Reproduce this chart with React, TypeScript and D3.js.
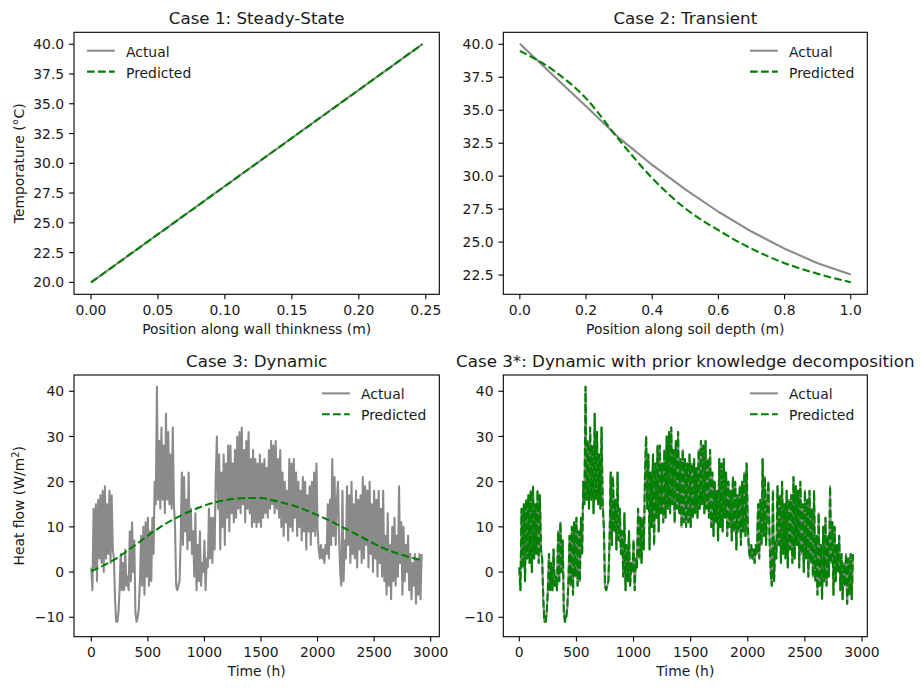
import * as d3 from "d3";
import type { ReactNode } from "react";

// Case 1: steady-state wall
const wallX = [0, 0.2475];
const wallActual = [20, 40];
const wallPredicted = [20, 40];

// Case 2: transient soil
const soilDepth = [0, 0.1, 0.2, 0.3, 0.4, 0.5, 0.6, 0.7, 0.8, 0.9, 1.0];
const soilActual = [40.05, 37.65, 35.3, 32.9, 30.85, 29.0, 27.3, 25.8, 24.5, 23.4, 22.55];
const soilPredicted = [39.5, 38.05, 35.9, 32.75, 29.85, 27.55, 25.9, 24.5, 23.4, 22.6, 21.95];

// Case 3: dynamic heat flow, one reading every 10 h (each row = 200 h)
const heatHours = d3.range(0, 2921, 10);
const heatActual = [
  1, -4, 14, 1, 15, -2, 16, 3, 17, 2, 18, 0, 19, 3, 15, 4, 18, 2, 17, 5,
  3, -6, -11, -11, -9, -4, 4, -4, 2, -4, 5, -3, -1, -4, 9, -2, 11, 0, 7, -9,
  -11, -10, -8, -2, 8, -3, 10, -5, 11, -1, 12, -3, 9, -2, 12, 4, 20, 15, 41, 16,
  29, 14, 32, 16, 28, 13, 35, 16, 31, 15, 26, 14, 32, 15, 10, -3, -4, -3, -2, 7,
  22, 6, 21, 9, 16, 5, 22, 7, 14, 4, 9, -1, 13, -4, 6, -2, 9, -3, 2, 0,
  7, -4, 3, 1, 14, 3, 12, 2, 12, 5, 21, 30, 14, 26, 5, 22, 10, 26, 6, 24,
  12, 28, 9, 28, 13, 24, 11, 27, 12, 30, 14, 31, 13, 32, 15, 27, 11, 29, 14, 31,
  13, 25, 10, 27, 11, 25, 10, 24, 11, 26, 10, 24, 12, 25, 13, 23, 12, 27, 14, 29,
  15, 28, 13, 29, 14, 25, 12, 27, 10, 22, 8, 20, 11, 18, 7, 25, 10, 24, 9, 25,
  12, 22, 8, 20, 10, 18, 7, 21, 9, 20, 5, 17, 9, 19, 6, 20, 9, 22, 8, 24,
  10, 5, 3, 6, 3, 5, 2, 6, 4, 15, 3, 16, 6, 25, 8, 21, 6, 15, 20, 8,
  0, -3, 18, -2, 7, 3, 19, 6, 17, 2, 20, 4, 15, 3, 18, 1, 16, 5, 17, 2,
  21, 3, 19, 6, 18, 1, 20, 4, 15, 0, 18, 3, 16, -1, 18, 2, 14, -1, 18, -2,
  8, -5, 13, -3, 6, -6, 10, -2, 12, -3, 8, -1, 19, 2, 11, -5, 10, -2, 6, 0,
  8, -4, 4, -6, 2, -3, 4, -7, 3, -5, 4, -6, 4,
];
// the decomposed model tracks the measured series almost exactly
const heatPredictedDecomp = heatActual;

// smooth prediction without decomposition
const trendHours = [0, 200, 400, 600, 800, 1000, 1200, 1400, 1500, 1600, 1800, 2000, 2200, 2400, 2600, 2800, 2920];
const trendPredicted = [0.2, 2.7, 6.2, 9.8, 12.6, 14.7, 16.0, 16.4, 16.4, 15.9, 14.6, 12.6, 10.2, 7.6, 5.1, 3.4, 2.6];

// ticks
const wallTicks = [0, 0.05, 0.1, 0.15, 0.2, 0.25];
const wallTickLabels = ["0.00", "0.05", "0.10", "0.15", "0.20", "0.25"];
const tempTicks1 = [20, 22.5, 25, 27.5, 30, 32.5, 35, 37.5, 40];
const tempTicks2 = [22.5, 25, 27.5, 30, 32.5, 35, 37.5, 40];
const soilTicks = [0, 0.2, 0.4, 0.6, 0.8, 1.0];
const soilTickLabels = ["0.0", "0.2", "0.4", "0.6", "0.8", "1.0"];
const hourTicks = [0, 500, 1000, 1500, 2000, 2500, 3000];
const heatTicks = [-10, 0, 10, 20, 30, 40];
const heatTickLabels = ["\u221210", "0", "10", "20", "30", "40"];

const FONT = "DejaVu Sans, Verdana, sans-serif";
const FS = 13.9;
const GRAY = "#8a8a8a";
const GREEN = "#008000";
const LW = 2.08;

type Series = { x: number[]; y: number[]; kind: "actual" | "predicted"; smooth?: boolean };

type PanelProps = {
  box: { left: number; right: number; top: number; bottom: number };
  xDomain: [number, number];
  yDomain: [number, number];
  xTicks: number[];
  xTickLabels: string[];
  yTicks: number[];
  yTickLabels: string[];
  title: string;
  xLabel: string;
  yLabel?: ReactNode;
  legend: "left" | "right";
  series: Series[];
  clipId: string;
};

function Panel(p: PanelProps) {
  const { left, right, top, bottom } = p.box;
  const x = d3.scaleLinear().domain(p.xDomain).range([left, right]);
  const y = d3.scaleLinear().domain(p.yDomain).range([bottom, top]);
  const cx = (left + right) / 2;
  const cy = (top + bottom) / 2;

  const legendText = p.legend === "left" ? left + 52 : right - 78.3;
  const legendHandle = legendText - 39;

  return (
    <g fontFamily={FONT} fill="#1a1a1a">
      <defs>
        <clipPath id={p.clipId}>
          <rect x={left} y={top} width={right - left} height={bottom - top} />
        </clipPath>
      </defs>

      <g clipPath={`url(#${p.clipId})`}>
        {p.series.map((s, i) => {
          const gen = d3
            .line<number>()
            .x((_, j) => x(s.x[j]))
            .y((v) => y(v))
            .curve(s.smooth ? d3.curveMonotoneX : d3.curveLinear);
          return (
            <path
              key={i}
              d={gen(s.y) ?? ""}
              fill="none"
              stroke={s.kind === "actual" ? GRAY : GREEN}
              strokeWidth={LW}
              strokeDasharray={s.kind === "predicted" ? "7.7 3.3" : undefined}
              strokeLinejoin="round"
            />
          );
        })}
      </g>

      <rect x={left} y={top} width={right - left} height={bottom - top} fill="none" stroke="#000" strokeWidth={1.1} />

      {p.xTicks.map((t, i) => (
        <g key={`x${i}`}>
          <line x1={x(t)} x2={x(t)} y1={bottom} y2={bottom + 4.9} stroke="#000" strokeWidth={1.1} />
          <text x={x(t)} y={bottom + 20.7} fontSize={FS} textAnchor="middle">
            {p.xTickLabels[i]}
          </text>
        </g>
      ))}
      {p.yTicks.map((t, i) => (
        <g key={`y${i}`}>
          <line x1={left - 4.9} x2={left} y1={y(t)} y2={y(t)} stroke="#000" strokeWidth={1.1} />
          <text x={left - 9.8} y={y(t) + 5.05} fontSize={FS} textAnchor="end">
            {p.yTickLabels[i]}
          </text>
        </g>
      ))}

      <text x={cx} y={top - 8.3} fontSize={16.7} textAnchor="middle">
        {p.title}
      </text>
      <text x={cx} y={bottom + 39.2} fontSize={FS} textAnchor="middle">
        {p.xLabel}
      </text>
      {p.yLabel && (
        <text transform={`translate(${left - 50.5},${cy}) rotate(-90)`} fontSize={FS} textAnchor="middle">
          {p.yLabel}
        </text>
      )}

      {/* legend, no frame */}
      <line x1={legendHandle} x2={legendHandle + 27.8} y1={top + 18.4} y2={top + 18.4} stroke={GRAY} strokeWidth={LW} />
      <text x={legendText} y={top + 24.4} fontSize={FS}>
        Actual
      </text>
      <line
        x1={legendHandle}
        x2={legendHandle + 27.8}
        y1={top + 39.3}
        y2={top + 39.3}
        stroke={GREEN}
        strokeWidth={LW}
        strokeDasharray="7.7 3.3"
      />
      <text x={legendText} y={top + 45.3} fontSize={FS}>
        Predicted
      </text>
    </g>
  );
}

export default function App() {
  const upper = { top: 32.3, bottom: 294.3 };
  const lower = { top: 375, bottom: 636.7 };
  const leftCol = { left: 74, right: 439.3 };
  const rightCol = { left: 503.3, right: 867.3 };

  const fmt1 = (v: number) => v.toFixed(1);

  return (
    <svg
      width={923}
      height={690}
      style={{ position: "absolute", left: 0, top: 0, background: "#fff" }}
    >
      <rect width={923} height={690} fill="#fff" />
      <Panel
        clipId="c1"
        box={{ ...leftCol, ...upper }}
        xDomain={[-0.0127, 0.2601]}
        yDomain={[19, 41]}
        xTicks={wallTicks}
        xTickLabels={wallTickLabels}
        yTicks={tempTicks1}
        yTickLabels={tempTicks1.map(fmt1)}
        title="Case 1: Steady-State"
        xLabel="Position along wall thinkness (m)"
        yLabel="Temporature (°C)"
        legend="left"
        series={[
          { x: wallX, y: wallActual, kind: "actual" },
          { x: wallX, y: wallPredicted, kind: "predicted" },
        ]}
      />
      <Panel
        clipId="c2"
        box={{ ...rightCol, ...upper }}
        xDomain={[-0.05, 1.05]}
        yDomain={[21.04, 40.91]}
        xTicks={soilTicks}
        xTickLabels={soilTickLabels}
        yTicks={tempTicks2}
        yTickLabels={tempTicks2.map(fmt1)}
        title="Case 2: Transient"
        xLabel="Position along soil depth (m)"
        legend="right"
        series={[
          { x: soilDepth, y: soilActual, kind: "actual" },
          { x: soilDepth, y: soilPredicted, kind: "predicted", smooth: true },
        ]}
      />
      <Panel
        clipId="c3"
        box={{ ...leftCol, ...lower }}
        xDomain={[-153, 3076]}
        yDomain={[-14.3, 43.6]}
        xTicks={hourTicks}
        xTickLabels={hourTicks.map(String)}
        yTicks={heatTicks}
        yTickLabels={heatTickLabels}
        title="Case 3: Dynamic"
        xLabel="Time (h)"
        yLabel={
          <>
            Heat flow (W/m
            <tspan fontSize={9.7} dy={-5}>
              2
            </tspan>
            <tspan dy={5}>)</tspan>
          </>
        }
        legend="right"
        series={[
          { x: heatHours, y: heatActual, kind: "actual" },
          { x: trendHours, y: trendPredicted, kind: "predicted", smooth: true },
        ]}
      />
      <Panel
        clipId="c4"
        box={{ ...rightCol, ...lower }}
        xDomain={[-140, 3046]}
        yDomain={[-14.3, 43.6]}
        xTicks={hourTicks}
        xTickLabels={hourTicks.map(String)}
        yTicks={heatTicks}
        yTickLabels={heatTickLabels}
        title="Case 3*: Dynamic with prior knowledge decomposition"
        xLabel="Time (h)"
        legend="right"
        series={[
          { x: heatHours, y: heatActual, kind: "actual" },
          { x: heatHours, y: heatPredictedDecomp, kind: "predicted" },
        ]}
      />
    </svg>
  );
}
